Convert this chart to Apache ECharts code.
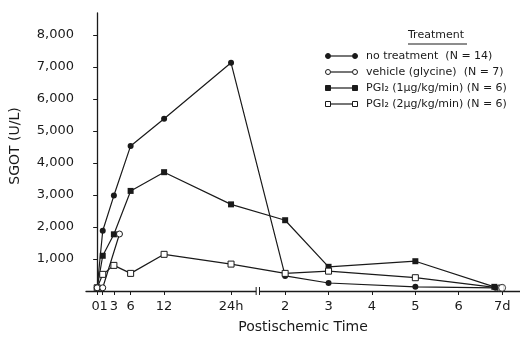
<!DOCTYPE html>
<html>
<head>
<meta charset="utf-8">
<script src="https://cdn.jsdelivr.net/npm/echarts@6/dist/echarts.min.js"></script>
<style>
  html, body { margin: 0; padding: 0; background: #fff; }
  #chart { width: 520px; height: 339px; }
</style>
</head>
<body>
<div id="chart"></div>
<script>
// sampling times: hours on the left part, days after the axis break
var hourTimes = [0, 1, 3, 6, 12, 24];
var hourLabels = ['0', '1', '3', '6', '12', '24h'];
var dayTicks = [2, 3, 4, 5, 6, 7];
var dayLabels = ['2', '3', '4', '5', '6', '7d'];
var yTicks = [1000, 2000, 3000, 4000, 5000, 6000, 7000, 8000];

// SGOT (U/L)
var noTreatHours = [100, 1880, 2980, 4530, 5380, 7125];
var noTreatDays = [2, 3, 5, 6.85];
var noTreatDayVals = [470, 250, 130, 100];

var vehicleHours = [0, 1, 4];
var vehicleHourVals = [100, 100, 1780];
var vehicleDays = [7];
var vehicleDayVals = [100];

var pgi1Hours = [100, 1100, 1770, 3125, 3710, 2705];
var pgi1Days = [2, 3, 5, 6.82];
var pgi1DayVals = [2210, 755, 930, 130];

var pgi2Hours = [100, 520, 800, 550, 1145, 840];
var pgi2Days = [2, 3, 5, 6.97];
var pgi2DayVals = [550, 620, 415, 90];

var legendNames = [
  'no treatment  (N = 14)',
  'vehicle (glycine)  (N = 7)',
  'PGI\u2082 (1\u00b5g/kg/min) (N = 6)',
  'PGI\u2082 (2\u00b5g/kg/min) (N = 6)'
];

// broken time axis: 1 unit per hour, then a compressed day scale
var DAY_START = 33.7, DAY_STEP = 7.78;
function posH(h) { return h; }
function posD(d) { return DAY_START + (d - 2) * DAY_STEP; }

function pts(hours, hv, days, dv) {
  var out = [];
  hours.forEach(function (h, i) { out.push([posH(h), hv[i]]); });
  days.forEach(function (d, i) { out.push([posD(d), dv[i]]); });
  return out;
}

var tickVals = hourTimes.map(posH).concat(dayTicks.map(posD));
var tickText = {};
hourTimes.forEach(function (h, i) { tickText[posH(h).toFixed(2)] = hourLabels[i]; });
dayTicks.forEach(function (d, i) { tickText[posD(d).toFixed(2)] = dayLabels[i]; });

var INK = '#1a1a1a';
var FONT = 'DejaVu Sans';
var filled = { color: INK, borderColor: INK, borderWidth: 0 };
var hollow = { color: '#fff', borderColor: INK, borderWidth: 1 };

function lineSeries(name, symbol, size, style, data, z) {
  return {
    name: name,
    type: 'line',
    data: data,
    symbol: symbol,
    symbolSize: size,
    showSymbol: true,
    lineStyle: { color: INK, width: 1.2 },
    itemStyle: style,
    z: z
  };
}

var myChart = echarts.init(document.getElementById('chart'));
var option = {
  animation: false,
  backgroundColor: '#fff',
  grid: { left: 86, right: 0, top: 13, bottom: 44 },
  xAxis: {
    type: 'value',
    min: -2,
    max: 75.8,
    name: 'Postischemic Time',
    nameLocation: 'middle',
    nameGap: 29,
    nameTextStyle: { fontFamily: FONT, fontSize: 14, color: INK },
    splitLine: { show: false },
    axisLine: { lineStyle: { color: INK, width: 1.3 } },
    axisTick: { customValues: tickVals, length: 4, lineStyle: { color: INK } },
    axisLabel: {
      customValues: tickVals,
      hideOverlap: false,
      margin: 9,
      fontFamily: FONT,
      fontSize: 13,
      color: INK,
      formatter: function (v) {
        var t = tickText[v.toFixed(2)] || '';
        // the first hour labels sit very close together
        if (t === '0') return '{l|0}';
        if (t === '1') return '{r|1}';
        return t;
      },
      rich: {
        l: { fontFamily: FONT, fontSize: 13, color: INK, padding: [0, 3, 0, 0] },
        r: { fontFamily: FONT, fontSize: 13, color: INK, padding: [0, 0, 0, 2] }
      }
    }
  },
  yAxis: {
    type: 'value',
    min: 0,
    max: 8680,
    name: 'SGOT (U/L)',
    nameLocation: 'middle',
    nameGap: 64,
    nameTextStyle: { fontFamily: FONT, fontSize: 14, color: INK, padding: [0, 0, 0, 12] },
    splitLine: { show: false },
    axisLine: { show: true, lineStyle: { color: INK, width: 1.3 } },
    axisTick: { show: true, customValues: yTicks, length: 4, lineStyle: { color: INK } },
    axisLabel: {
      customValues: yTicks,
      margin: 12,
      fontFamily: FONT,
      fontSize: 13,
      color: INK,
      formatter: function (v) { return v.toLocaleString('en-US'); }
    }
  },
  series: [
    lineSeries(legendNames[0], 'circle', 6, filled,
      pts(hourTimes, noTreatHours, noTreatDays, noTreatDayVals), 3),
    lineSeries(legendNames[2], 'rect', 6, filled,
      pts(hourTimes, pgi1Hours, pgi1Days, pgi1DayVals), 3),
    lineSeries(legendNames[3], 'rect', 6, hollow,
      pts(hourTimes, pgi2Hours, pgi2Days, pgi2DayVals), 4),
    lineSeries(legendNames[1], 'circle', 6, hollow,
      pts(vehicleHours, vehicleHourVals, [], []), 5),
    {
      name: legendNames[1] + ' 7d',
      type: 'scatter',
      symbol: 'circle',
      symbolSize: 7,
      itemStyle: hollow,
      data: pts([], [], vehicleDays, vehicleDayVals),
      z: 5
    }
  ]
};
myChart.setOption(option);

// legend block and axis break marks
function legendIcon(kind, y) {
  var x1 = 328, x2 = 355;
  var isHollow = kind === 'emptyCircle' || kind === 'emptyRect';
  var st = { fill: isHollow ? '#fff' : INK, stroke: INK, lineWidth: 1 };
  var items = [{ type: 'line', shape: { x1: x1 + 3, y1: y, x2: x2 - 3, y2: y }, style: { stroke: INK, lineWidth: 1.2 } }];
  [x1, x2].forEach(function (x) {
    if (kind === 'circle' || kind === 'emptyCircle') {
      items.push({ type: 'circle', shape: { cx: x, cy: y, r: 2.5 }, style: st });
    } else {
      items.push({ type: 'rect', shape: { x: x - 2.5, y: y - 2.5, width: 5, height: 5 }, style: st });
    }
  });
  return items;
}

var kinds = ['circle', 'emptyCircle', 'rect', 'emptyRect'];
var graphics = [
  { type: 'text', left: 408, top: 30, style: { text: 'Treatment', fontFamily: FONT, fontSize: 11, fill: INK } },
  { type: 'line', shape: { x1: 408, y1: 44, x2: 467, y2: 44 }, style: { stroke: INK, lineWidth: 1 } }
];
kinds.forEach(function (k, i) {
  var y = 56 + i * 16;
  graphics = graphics.concat(legendIcon(k, y));
  graphics.push({ type: 'text', x: 366, y: y, style: { text: legendNames[i], fontFamily: FONT, fontSize: 11, fill: INK, verticalAlign: 'middle' } });
});

var b1 = myChart.convertToPixel({ gridIndex: 0 }, [28.5, 0]);
var b2 = myChart.convertToPixel({ gridIndex: 0 }, [29.1, 0]);
graphics.push({ type: 'rect', shape: { x: b1[0], y: b1[1] - 2, width: b2[0] - b1[0], height: 4 }, style: { fill: '#fff' }, z: 100 });
[b1, b2].forEach(function (p) {
  graphics.push({ type: 'line', shape: { x1: p[0], y1: p[1] - 4, x2: p[0], y2: p[1] + 4 }, style: { stroke: INK, lineWidth: 1 }, z: 101 });
});

myChart.setOption({ graphic: graphics });
</script>
</body>
</html>
